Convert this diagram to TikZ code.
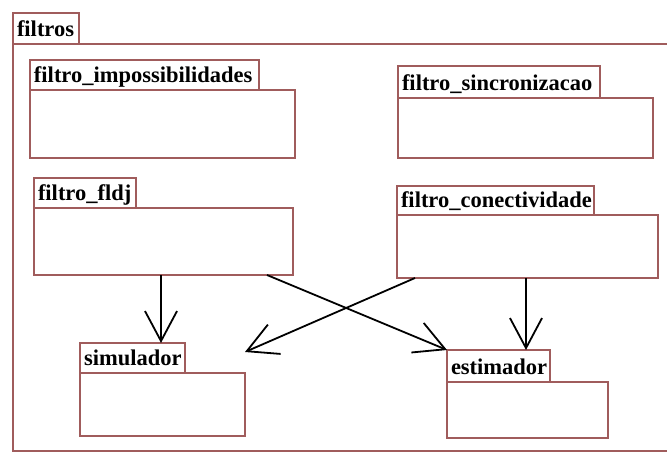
\documentclass[tikz,border=0pt]{standalone}
\usepackage{fontspec}
\setmainfont{Liberation Serif}
\usetikzlibrary{arrows.meta,calc}
\definecolor{pkgline}{RGB}{160,92,92}
\tikzset{
  pkgtab/.style={draw=pkgline, line width=1.2pt, rectangle, inner sep=0pt, outer sep=0pt,
    font=\bfseries\fontsize{22.5}{24}\selectfont, align=left, anchor=north west},
  pkgbody/.style={draw=pkgline, line width=1.2pt, rectangle, inner sep=0pt, outer sep=0pt,
    anchor=north west},
  dep/.style={draw=black, line width=1.8pt,
    -{Straight Barb[length=30pt,width=32pt,line width=1.8pt]}}
}
% UML package: name, x, y, tab width, tab height, body width, body height, title
\newcommand\umlpkg[8]{%
  \node[pkgbody, minimum width=#6pt, minimum height=#7pt] (#1) at (#2,#3+#5) {};
  \node[pkgtab, minimum width=#4pt, minimum height=#5pt, text width=#4pt-8pt,
    text height=#5pt-7pt, text depth=7pt] (#1-tab) at (#2,#3) {#8};
}
\begin{document}
\begin{tikzpicture}[x=1pt,y=-1pt]
  \useasboundingbox (0,0) rectangle (667,454);
  \fill[white] (0,0) rectangle (667,454);
  \umlpkg{filtros}{13}{13}{66}{31}{660}{407}{filtros}
  \umlpkg{impos}{30}{60}{229}{30}{265}{68}{filtro\_impossibilidades}
  \umlpkg{sinc}{398}{66}{202}{32}{255}{60}{filtro\_sincronizacao}
  \umlpkg{fldj}{34}{178}{102}{30}{259}{67}{filtro\_fldj}
  \umlpkg{conect}{397}{186}{197}{29}{261}{63}{filtro\_conectividade}
  \umlpkg{simulador}{80}{343}{105}{30}{165}{63}{simulador}
  \umlpkg{estimador}{447}{350}{103}{32}{161}{56}{estimador}
  % dependencies
  \draw[dep] ($(fldj.south west)+(127,0)$) -- ($(simulador-tab.north west)+(81,0)$);
  \draw[dep] ($(fldj.south west)+(233,0)$) -- (estimador-tab.north west);
  \draw[dep] ($(conect.south west)+(18,0)$) -- ($(simulador.north east)+(0,-21)$);
  \draw[dep] ($(conect.south west)+(129,0)$) -- ($(estimador-tab.north west)+(79,0)$);
\end{tikzpicture}
\end{document}
